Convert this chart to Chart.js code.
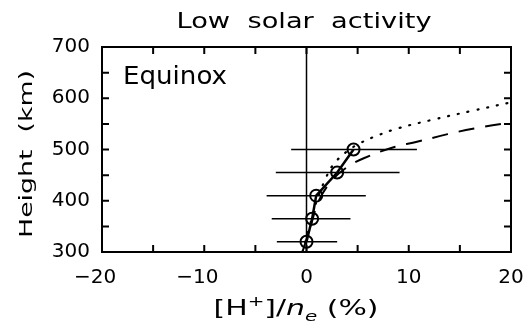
<!DOCTYPE html>
<html>
<head>
<meta charset="utf-8">
<script src="https://cdn.jsdelivr.net/npm/chart.js@4.4.1/dist/chart.umd.min.js"></script>
<style>
  html, body { margin: 0; padding: 0; background: #fff; }
  #wrap { width: 524px; height: 328px; }
</style>
</head>
<body>
<div id="wrap"><canvas id="c" width="524" height="328"></canvas></div>
<script>
// measured profile (circles) with horizontal error bars
const heights = [320, 365, 410, 455, 500];
const ratio = [0.0, 0.55, 0.95, 3.0, 4.6];
const errLow = [-2.9, -3.4, -3.9, -3.0, -1.5];
const errHigh = [3.0, 4.3, 5.8, 9.1, 10.8];

// model curves
const dottedX = [-0.4, 0.3, 1.0, 1.8, 2.6, 4.0, 5.2, 6.9, 8.9, 12.1, 16.1, 20];
const dottedY = [300, 350, 400, 440, 470, 497, 512, 527, 541, 557, 575, 592];
const dashedX = [-0.4, 0.4, 1.2, 2.5, 4.0, 5.6, 8.6, 10.8, 13.8, 16.4, 20];
const dashedY = [300, 350, 400, 440, 466, 483, 505, 515, 530, 541, 553];

const xTicks = [-20, -10, 0, 10, 20];
const yTicks = [300, 400, 500, 600, 700];

const FONT = '"DejaVu Sans", sans-serif';

const pts = (xs, ys) => xs.map((x, i) => ({ x, y: ys[i] }));

const datasets = [];

// zero line
datasets.push({
    data: [{ x: 0, y: 300 }, { x: 0, y: 700 }],
    borderColor: '#000', borderWidth: 1.5, pointRadius: 0
});

// error bars
heights.forEach((h, i) => {
    datasets.push({
        data: [{ x: errLow[i], y: h }, { x: errHigh[i], y: h }],
        borderColor: '#000', borderWidth: 1.5, pointRadius: 0
    });
});

datasets.push({
    data: pts(dottedX, dottedY),
    borderColor: '#000', borderWidth: 2.2, borderDash: [1, 9], borderCapStyle: 'round',
    pointRadius: 0, tension: 0.4
});
datasets.push({
    data: pts(dashedX, dashedY),
    borderColor: '#000', borderWidth: 2, borderDash: [16, 11],
    pointRadius: 0, tension: 0.4
});
datasets.push({
    data: pts(ratio, heights),
    borderColor: '#000', borderWidth: 2.5,
    pointRadius: 6, pointBorderWidth: 2, pointBackgroundColor: 'rgba(0,0,0,0)',
    pointBorderColor: '#000'
});

// draw text pieces squeezed/stretched to a given width (the original font is wide)
const fitText = (ctx, parts, x, y, width, align) => {
    let w = 0;
    parts.forEach(p => { ctx.font = p.f; p.w = ctx.measureText(p.t).width; w += p.w; });
    ctx.save();
    ctx.translate(x, y);
    ctx.scale(width / w, 1);
    let cx = align === 'center' ? -w / 2 : 0;
    ctx.textAlign = 'left';
    parts.forEach(p => { ctx.font = p.f; ctx.fillText(p.t, cx, p.dy || 0); cx += p.w; });
    ctx.restore();
};

// inward ticks on all four sides + texts
const frame = {
    id: 'frame',
    afterDatasetsDraw(chart) {
        const { ctx, chartArea: a, scales } = chart;
        ctx.save();
        ctx.strokeStyle = '#000';
        ctx.lineWidth = 2;
        ctx.strokeRect(a.left, a.top, a.right - a.left, a.bottom - a.top);
        ctx.beginPath();
        for (let v = -20; v <= 20; v += 5) {
            const px = scales.x.getPixelForValue(v);
            ctx.moveTo(px, a.bottom); ctx.lineTo(px, a.bottom - 7);
            ctx.moveTo(px, a.top); ctx.lineTo(px, a.top + 7);
        }
        for (let v = 300; v <= 700; v += 50) {
            const py = scales.y.getPixelForValue(v);
            ctx.moveTo(a.left, py); ctx.lineTo(a.left + 7, py);
            ctx.moveTo(a.right, py); ctx.lineTo(a.right - 7, py);
        }
        ctx.stroke();

        ctx.fillStyle = '#000';
        ctx.textBaseline = 'alphabetic';

        fitText(ctx, [{ t: 'Equinox', f: '24px ' + FONT }], 123, 84, 104, 'left');
        fitText(ctx, [{ t: 'Low  solar  activity', f: '21px ' + FONT }], 304, 28, 255, 'center');

        ctx.save();
        ctx.translate(32, 154);
        ctx.rotate(-Math.PI / 2);
        fitText(ctx, [{ t: 'Height  (km)', f: '18px ' + FONT }], 0, 0, 168, 'center');
        ctx.restore();

        fitText(ctx, [
            { t: '[H', f: '21px ' + FONT },
            { t: '+', f: '14px ' + FONT, dy: -9 },
            { t: ']/', f: '21px ' + FONT },
            { t: 'n', f: 'italic 21px ' + FONT },
            { t: 'e', f: 'italic 14px ' + FONT, dy: 6 },
            { t: ' (%)', f: '21px ' + FONT }
        ], 296, 315, 165, 'center');
        ctx.restore();
    }
};

const noPad = (s) => { s.paddingLeft = 0; s.paddingRight = 0; s.paddingTop = 0; s.paddingBottom = 0; };

new Chart(document.getElementById('c'), {
    type: 'line',
    data: { datasets },
    options: {
        responsive: false,
        animation: false,
        layout: { padding: { left: 40, right: 13, top: 47, bottom: 0 } },
        plugins: { legend: { display: false }, tooltip: { enabled: false } },
        scales: {
            x: {
                type: 'linear', min: -20, max: 20,
                afterFit: (s) => { s.height = 76; noPad(s); },
                afterBuildTicks: (s) => { s.ticks = xTicks.map(value => ({ value })); },
                grid: { display: false, drawTicks: false },
                border: { display: false },
                ticks: {
                    color: '#000', padding: 14, font: { family: FONT, size: 20 },
                    // minus sign hangs to the left of the centred digits
                    callback: (v) => v < 0 ? '\u2212' + Math.abs(v) + '\u2002\u2009' : String(v)
                }
            },
            y: {
                type: 'linear', min: 300, max: 700,
                afterFit: (s) => { s.width = 62; noPad(s); },
                afterBuildTicks: (s) => { s.ticks = yTicks.map(value => ({ value })); },
                grid: { display: false, drawTicks: false },
                border: { display: false },
                ticks: { color: '#000', padding: 12, font: { family: FONT, size: 20 } }
            }
        }
    },
    plugins: [frame]
});
</script>
</body>
</html>
